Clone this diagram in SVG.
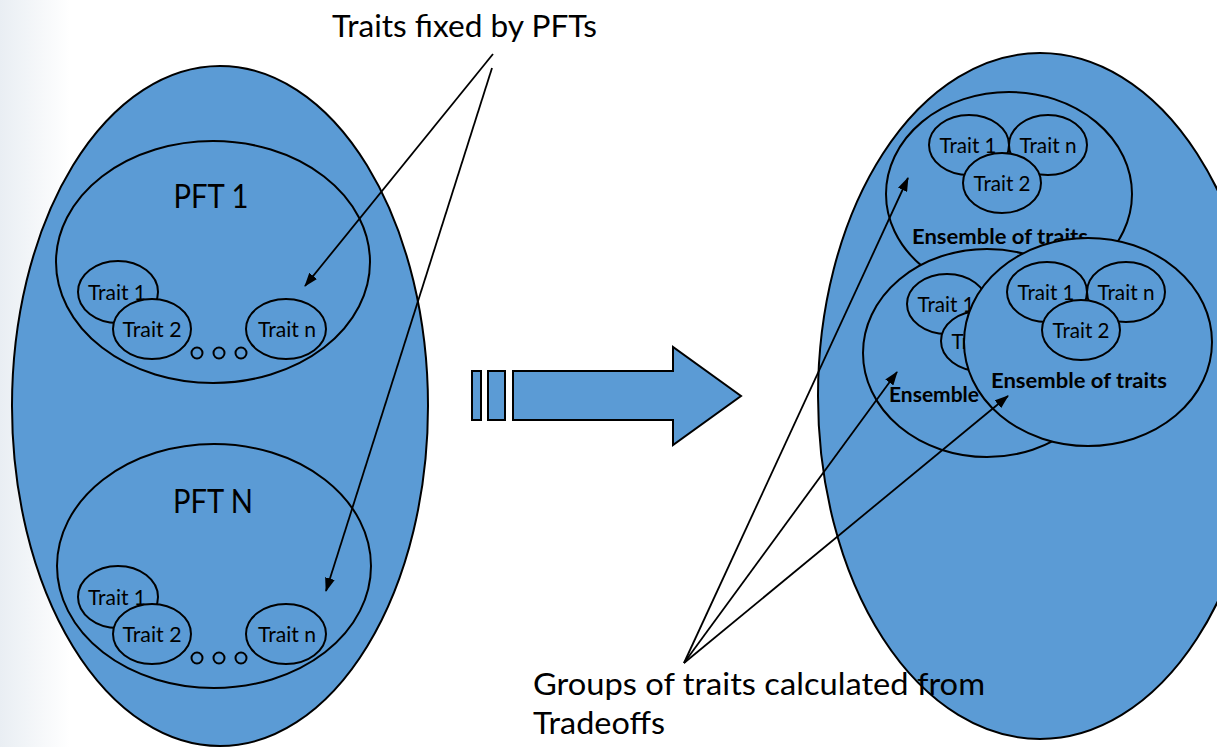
<svg xmlns="http://www.w3.org/2000/svg" width="1217" height="747" viewBox="0 0 1217 747">
<defs>
<linearGradient id="bg" x1="0" y1="0" x2="1" y2="0">
<stop offset="0" stop-color="#e9eef3"/>
<stop offset="1" stop-color="#ffffff"/>
</linearGradient>
<marker id="ah" markerWidth="14" markerHeight="10" refX="13" refY="5" orient="auto" markerUnits="userSpaceOnUse">
<path d="M0,0 L14,5 L0,10 Z" fill="#000"/>
</marker>
<style>
.sh{fill:#5b9bd5;stroke:#000;stroke-width:2}
.lbl{font-family:Lato,"Open Sans",sans-serif;fill:#000}
.tr{font-size:21px;text-anchor:middle}
.pft{font-size:32px;text-anchor:middle}
.big{font-size:31px}
.ens{font-size:21px;font-weight:bold}
.con{stroke:#000;stroke-width:1.8;fill:none;marker-end:url(#ah)}
</style>
</defs>
<rect x="0" y="0" width="1217" height="747" fill="#fff"/>
<rect x="0" y="0" width="70" height="747" fill="url(#bg)"/>

<g id="left-container">
<ellipse class="sh" cx="220" cy="406" rx="208" ry="340"/>
</g>

<g id="pft1">
<ellipse class="sh" cx="213" cy="262" rx="157" ry="121"/>
<text class="lbl pft" x="211" y="208" textLength="75" lengthAdjust="spacingAndGlyphs">PFT 1</text>
<g id="pft1-trait1"><ellipse class="sh" cx="118" cy="292" rx="40" ry="31"/><text class="lbl tr" x="117" y="300" textLength="58" lengthAdjust="spacingAndGlyphs">Trait 1</text></g>
<g id="pft1-trait2"><ellipse class="sh" cx="152" cy="329" rx="39" ry="30"/><text class="lbl tr" x="152" y="337" textLength="59" lengthAdjust="spacingAndGlyphs">Trait 2</text></g>
<g id="pft1-traitn"><ellipse class="sh" cx="286" cy="329" rx="40" ry="30"/><text class="lbl tr" x="287" y="337" textLength="58" lengthAdjust="spacingAndGlyphs">Trait n</text></g>
<circle class="sh" cx="197" cy="353" r="5.5"/>
<circle class="sh" cx="219" cy="353" r="5.5"/>
<circle class="sh" cx="241" cy="353" r="5.5"/>
</g>

<g id="pftN">
<ellipse class="sh" cx="214" cy="566" rx="157" ry="122"/>
<text class="lbl pft" x="213" y="513" textLength="80" lengthAdjust="spacingAndGlyphs">PFT N</text>
<g id="pftN-trait1"><ellipse class="sh" cx="118" cy="597" rx="40" ry="31"/><text class="lbl tr" x="117" y="605" textLength="58" lengthAdjust="spacingAndGlyphs">Trait 1</text></g>
<g id="pftN-trait2"><ellipse class="sh" cx="152" cy="634" rx="39" ry="30"/><text class="lbl tr" x="152" y="642" textLength="59" lengthAdjust="spacingAndGlyphs">Trait 2</text></g>
<g id="pftN-traitn"><ellipse class="sh" cx="286" cy="634" rx="40" ry="30"/><text class="lbl tr" x="287" y="642" textLength="58" lengthAdjust="spacingAndGlyphs">Trait n</text></g>
<circle class="sh" cx="197" cy="658" r="5.5"/>
<circle class="sh" cx="219" cy="658" r="5.5"/>
<circle class="sh" cx="241" cy="658" r="5.5"/>
</g>

<g id="block-arrow">
<rect class="sh" x="472" y="371" width="9" height="49"/>
<rect class="sh" x="488" y="371" width="17" height="49"/>
<polygon class="sh" points="513,371 673,371 673,347 741,396 673,445 673,420 513,420"/>
</g>

<g id="right-container">
<ellipse class="sh" cx="1040" cy="396" rx="222" ry="343"/>
</g>

<g id="ensemble1">
<ellipse class="sh" cx="1009" cy="194" rx="123" ry="102"/>
<g><ellipse class="sh" cx="969" cy="145" rx="40" ry="30"/><text class="lbl tr" x="968" y="153" textLength="57" lengthAdjust="spacingAndGlyphs">Trait 1</text></g>
<g><ellipse class="sh" cx="1048" cy="145" rx="39" ry="30"/><text class="lbl tr" x="1048" y="153" textLength="57" lengthAdjust="spacingAndGlyphs">Trait n</text></g>
<g><ellipse class="sh" cx="1002" cy="183" rx="39" ry="30"/><text class="lbl tr" x="1002" y="191" textLength="57" lengthAdjust="spacingAndGlyphs">Trait 2</text></g>
<text class="lbl ens" x="912" y="244" textLength="176" lengthAdjust="spacingAndGlyphs">Ensemble of traits</text>
</g>

<g id="ensemble2">
<ellipse class="sh" cx="987" cy="353" rx="124" ry="104"/>
<g><ellipse class="sh" cx="947" cy="304" rx="40" ry="30"/><text class="lbl tr" x="946" y="312" textLength="57" lengthAdjust="spacingAndGlyphs">Trait 1</text></g>
<g><ellipse class="sh" cx="980" cy="341" rx="39" ry="30"/><text class="lbl tr" x="980" y="349" textLength="57" lengthAdjust="spacingAndGlyphs">Trait 2</text></g>
<text class="lbl ens" x="889" y="402" textLength="90" lengthAdjust="spacingAndGlyphs">Ensemble</text>
</g>

<g id="ensemble3">
<ellipse class="sh" cx="1088" cy="342" rx="124" ry="104"/>
<g><ellipse class="sh" cx="1047" cy="292" rx="40" ry="30"/><text class="lbl tr" x="1046" y="300" textLength="57" lengthAdjust="spacingAndGlyphs">Trait 1</text></g>
<g><ellipse class="sh" cx="1126" cy="292" rx="39" ry="30"/><text class="lbl tr" x="1126" y="300" textLength="57" lengthAdjust="spacingAndGlyphs">Trait n</text></g>
<g><ellipse class="sh" cx="1081" cy="330" rx="39" ry="30"/><text class="lbl tr" x="1081" y="338" textLength="57" lengthAdjust="spacingAndGlyphs">Trait 2</text></g>
<text class="lbl ens" x="991" y="388" textLength="176" lengthAdjust="spacingAndGlyphs">Ensemble of traits</text>
</g>

<g id="label-fixed">
<text class="lbl big" x="332" y="37" textLength="265" lengthAdjust="spacingAndGlyphs">Traits fixed by PFTs</text>
</g>
<g id="label-groups">
<text class="lbl big" x="533" y="695" textLength="452" lengthAdjust="spacingAndGlyphs">Groups of traits calculated from</text>
<text class="lbl big" x="533" y="734" textLength="132" lengthAdjust="spacingAndGlyphs">Tradeoffs</text>
</g>

<g id="connectors">
<line class="con" x1="493" y1="54" x2="305" y2="286"/>
<line class="con" x1="492" y1="68" x2="326" y2="591"/>
<line class="con" x1="684" y1="663" x2="908" y2="178"/>
<line class="con" x1="684" y1="663" x2="897" y2="372"/>
<line class="con" x1="684" y1="663" x2="1008" y2="396"/>
</g>
</svg>
